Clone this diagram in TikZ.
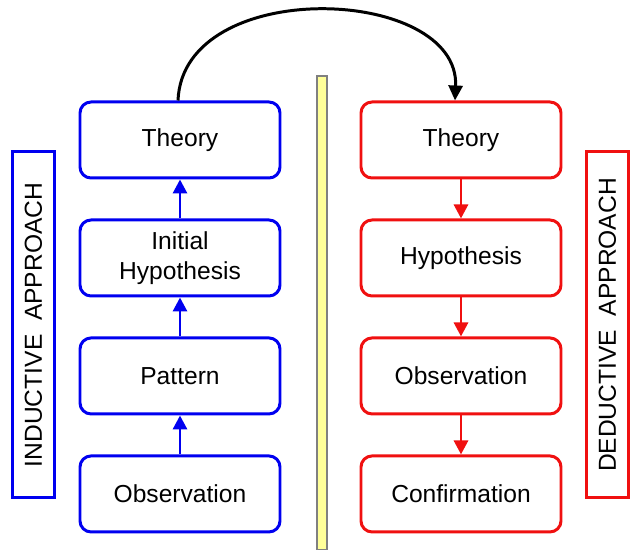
\documentclass[tikz,border=0pt]{standalone}
\usepackage{fontspec}
\setmainfont{Liberation Sans}
\usetikzlibrary{positioning,arrows.meta}
\definecolor{indblue}{HTML}{0000F0}
\definecolor{dedred}{HTML}{F01010}
\definecolor{barfill}{HTML}{FFFF99}

\begin{document}
\begin{tikzpicture}[
    font=\fontsize{14}{17}\selectfont,
    ibox/.style={draw=indblue, line width=1.7pt, rounded corners=0.22cm, fill=white, align=center, minimum width=4cm, minimum height=1.52cm, inner sep=2pt},
    dbox/.style={ibox, draw=dedred},
    side/.style={draw, line width=1.7pt, rotate=90, minimum width=6.92cm, minimum height=0.84cm, inner sep=0pt},
    iarrow/.style={-{Triangle[length=2.8mm,width=2.8mm]}, line width=1.7pt, indblue},
    darrow/.style={iarrow, dedred}
  ]
    \useasboundingbox (0,0) rectangle (12.6,11);

    % divider
    \draw[gray, fill=barfill, line width=0.6pt] (6.34,0) rectangle (6.54,9.48);

    % inductive column
    \node[ibox] (itheory) at (3.6,8.2) {Theory};
    \node[ibox, below=0.78cm of itheory] (ihyp) {Initial\\Hypothesis};
    \node[ibox, below=0.78cm of ihyp] (ipattern) {Pattern};
    \node[ibox, below=0.78cm of ipattern] (iobs) {Observation};

    % deductive column
    \node[dbox] (dtheory) at (9.22,8.2) {Theory};
    \node[dbox, below=0.78cm of dtheory] (dhyp) {Hypothesis};
    \node[dbox, below=0.78cm of dhyp] (dobs) {Observation};
    \node[dbox, below=0.78cm of dobs] (dconf) {Confirmation};

    % side labels
    \node[side, draw=indblue] (ilabel) at (0.67,4.5) {INDUCTIVE\ \ APPROACH};
    \node[side, draw=dedred] (dlabel) at (12.15,4.5) {DEDUCTIVE\ \ APPROACH};

    \draw[iarrow] (iobs.north) -- (ipattern.south);
    \draw[iarrow] (ipattern.north) -- (ihyp.south);
    \draw[iarrow] (ihyp.north) -- (itheory.south);

    \draw[darrow] (dtheory.south) -- (dhyp.north);
    \draw[darrow] (dhyp.south) -- (dobs.north);
    \draw[darrow] (dobs.south) -- (dconf.north);

    \coordinate (landing) at ([xshift=-0.12cm]dtheory.north);
    \draw[-{Triangle[length=3mm,width=2.8mm]}, line width=1.7pt] ([xshift=-0.04cm]itheory.north) .. controls +(0.1,2.5) and +(0.1,2.3) .. (landing);
\end{tikzpicture}
\end{document}
